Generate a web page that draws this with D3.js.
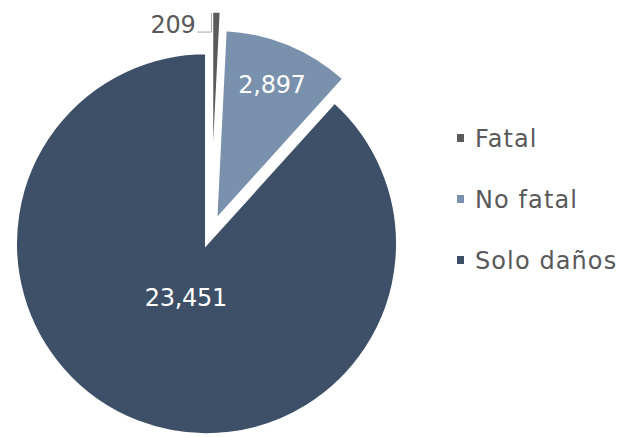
<!DOCTYPE html>
<html>
<head>
<meta charset="utf-8">
<script src="https://cdn.jsdelivr.net/npm/d3@7"></script>
<style>
  html, body { margin: 0; padding: 0; background: #ffffff; }
  svg { display: block; }
</style>
</head>
<body>
<svg id="chart" width="634" height="437"></svg>
<script>
const categories = ["Fatal", "No fatal", "Solo daños"];
const values = [209, 2897, 23451];
const labels = ["209", "2,897", "23,451"];
const colors = ["#5b5b5b", "#7a91ad", "#3e5068"];

const svg = d3.select("#chart");
const cx = 211, cy = 232, R = 191;
const explode = [30, 12.5, 12.5];
const labelFrac = [null, 0.77, 0.30];

const pie = d3.pie().sort(null).value(d => d.value);
const data = categories.map((c, i) => ({ cat: c, value: values[i], label: labels[i], color: colors[i], i }));
const arcs = pie(data);
const arc = d3.arc().innerRadius(0).outerRadius(R);

const g = svg.append("g").attr("transform", `translate(${cx},${cy})`);

const slices = g.selectAll("g.slice").data(arcs).enter().append("g")
  .attr("class", "slice")
  .attr("transform", d => {
    const mid = (d.startAngle + d.endAngle) / 2;
    const o = explode[d.data.i];
    return `translate(${Math.sin(mid) * o},${-Math.cos(mid) * o})`;
  });

slices.append("path")
  .attr("d", arc)
  .attr("fill", d => d.data.color)
  .attr("stroke", "#ffffff")
  .attr("stroke-width", 3)
  .attr("stroke-linejoin", "miter");

// inside labels
slices.filter(d => labelFrac[d.data.i] !== null).append("text")
  .attr("transform", d => {
    const r = R * labelFrac[d.data.i];
    const c = d3.arc().innerRadius(r).outerRadius(r).centroid(d);
    return `translate(${c[0]},${c[1]})`;
  })
  .attr("text-anchor", "middle")
  .attr("dy", "0.36em")
  .attr("fill", "#ffffff")
  .style("font-family", "'DejaVu Sans', sans-serif")
  .style("font-size", "24px")
  .style("letter-spacing", "-0.3px")
  .text(d => d.data.label);

// outside label with leader for Fatal
slices.filter(d => labelFrac[d.data.i] === null).each(function(d) {
  const sel = d3.select(this);
  const mid = (d.startAngle + d.endAngle) / 2;
  const p = [Math.sin(mid) * (R - 1), -Math.cos(mid) * (R - 1)];
  const lx = p[0] - 5;
  sel.append("path")
    .attr("d", d3.line()([[lx, p[1] + 1], [lx, p[1] + 20], [lx - 14, p[1] + 20]]))
    .attr("fill", "none")
    .attr("stroke", "#a6a6a6")
    .attr("stroke-width", 1);
  sel.append("text")
    .attr("x", lx - 16)
    .attr("y", p[1] + 21)
    .attr("text-anchor", "end")
    .attr("fill", "#595959")
    .style("font-family", "'DejaVu Sans', sans-serif")
    .style("font-size", "24px")
    .style("letter-spacing", "-0.3px")
    .text(d.data.label);
});

// legend
const legend = svg.append("g").attr("transform", "translate(457,138)");
const items = legend.selectAll("g").data(data).enter().append("g")
  .attr("transform", (d, i) => `translate(0,${i * 61})`);
items.append("rect")
  .attr("x", 0).attr("y", -4).attr("width", 7).attr("height", 8)
  .attr("fill", d => d.color);
items.append("text")
  .attr("x", 18).attr("y", 0).attr("dy", "0.36em")
  .attr("fill", "#595959")
  .style("font-family", "'DejaVu Sans', sans-serif")
  .style("font-size", "24px")
  .style("letter-spacing", "1.1px")
  .text(d => d.cat);
</script>
</body>
</html>
